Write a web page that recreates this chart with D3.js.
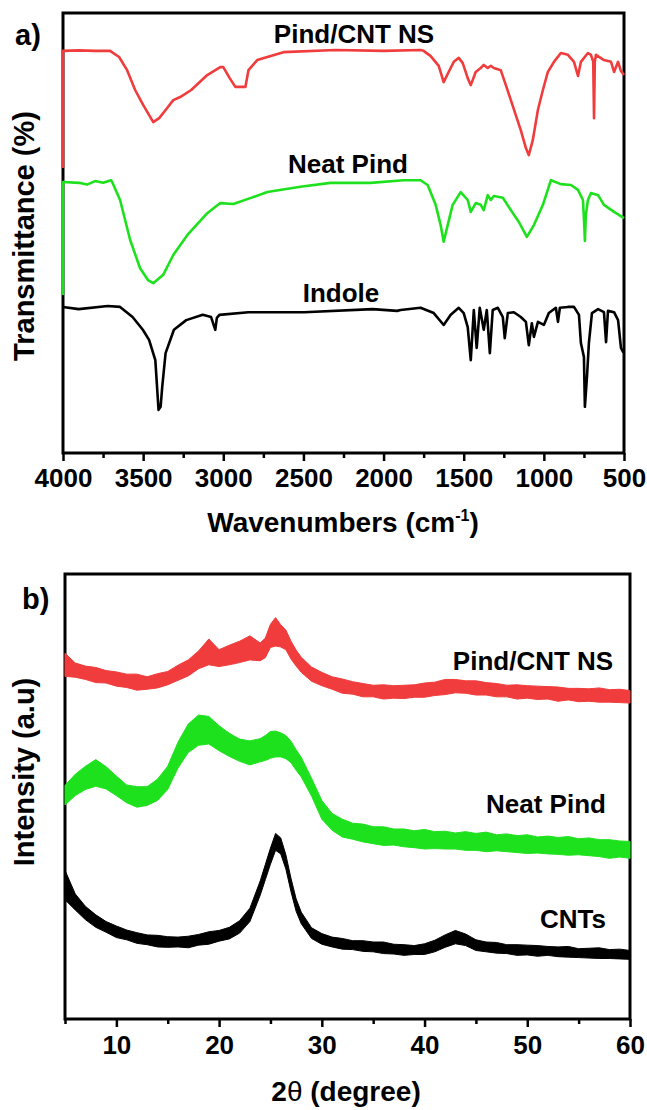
<!DOCTYPE html>
<html>
<head>
<meta charset="utf-8">
<script src="https://cdn.jsdelivr.net/npm/d3@7"></script>
<style>
  body { margin: 0; background: #fff; }
  text { font-family: "Liberation Sans", Arial, sans-serif; font-weight: bold; fill: #000; }
  .tick text { font-size: 26px; }
  .tick line { stroke: #000; stroke-width: 2.5; }
</style>
</head>
<body>
<script>
/*
 * a) FTIR spectra and b) XRD patterns, stacked traces.
 * */

// ---- a) FTIR: wavenumber (cm-1) and transmittance (%, offset per trace)
var pindCntWn = [4000, 4000, 3900, 3800, 3706, 3650, 3600, 3550, 3500, 3437, 3400, 3350, 3312, 3269, 3200,
  3100, 3019, 3000, 2960, 2925, 2862, 2843, 2788, 2625, 2300, 2000, 1769, 1750, 1706, 1656,
  1625, 1594, 1562, 1531, 1506, 1475, 1456, 1425, 1394, 1375, 1350, 1331, 1312, 1269, 1237,
  1206, 1175, 1144, 1112, 1094, 1069, 1037, 1006, 975, 937, 894, 850, 812, 787, 769,
  725, 706, 692, 687, 682, 675, 625, 581, 562, 537, 519, 500];
var pindCntT = [64.8, 91.4, 91.5, 91.4, 91.4, 90.0, 87.0, 82.5, 79.1, 75.2, 76.1, 78.4, 80.2, 80.9, 82.5,
  85.9, 87.7, 87.7, 85.2, 83.2, 83.2, 87.0, 89.3, 91.1, 91.6, 91.4, 91.6, 91.4, 90.2, 88.0,
  84.3, 86.6, 88.9, 89.8, 88.6, 85.2, 83.6, 86.6, 87.5, 88.2, 87.5, 88.0, 87.5, 87.0, 83.6,
  80.2, 76.8, 73.4, 69.3, 67.7, 71.1, 78.0, 82.5, 86.6, 88.9, 90.9, 90.5, 88.9, 85.7, 88.9,
  90.9, 90.5, 88.9, 76.1, 88.9, 90.5, 89.3, 88.9, 86.6, 88.9, 86.8, 85.9];

var neatPindWn = [4000, 4000, 3900, 3850, 3800, 3750, 3700, 3687, 3644, 3581, 3519, 3470, 3437, 3375, 3312,
  3225, 3100, 3019, 2937, 2850, 2725, 2519, 2331, 2081, 1875, 1769, 1725, 1675, 1644, 1625,
  1600, 1569, 1519, 1475, 1456, 1425, 1394, 1375, 1350, 1331, 1312, 1256, 1206, 1156, 1106,
  1062, 1006, 956, 894, 831, 787, 756, 748, 744, 738, 725, 706, 662, 625, 562, 500];
var neatPindT = [35.9, 61.6, 61.4, 61.0, 61.8, 61.4, 62.0, 61.1, 57.5, 48.4, 42.0, 39.3, 38.6, 40.5, 45.0,
  49.5, 54.5, 56.8, 56.6, 57.7, 59.3, 60.5, 61.4, 61.4, 62.0, 62.0, 60.9, 56.4, 51.8, 48.0,
  51.8, 56.4, 59.3, 57.5, 54.8, 56.8, 56.4, 55.2, 58.6, 57.5, 58.4, 58.0, 55.2, 52.5, 49.1,
  51.8, 56.4, 62.0, 61.1, 60.9, 59.8, 57.5, 51.8, 48.2, 54.1, 57.5, 59.1, 58.6, 56.4, 54.8, 53.4];

var indoleWn = [4000, 3902, 3721, 3644, 3566, 3502, 3463, 3424, 3410, 3404, 3391, 3381, 3360, 3308, 3231,
  3128, 3076, 3050, 3040, 3024, 2844, 2496, 2069, 1915, 1894, 1769, 1687, 1625, 1581, 1531,
  1500, 1475, 1456, 1437, 1419, 1400, 1375, 1356, 1337, 1319, 1287, 1256, 1244, 1225, 1187,
  1144, 1112, 1094, 1075, 1062, 1037, 1000, 969, 925, 912, 900, 850, 812, 781, 769,
  750, 744, 731, 719, 700, 662, 625, 612, 600, 562, 537, 519, 506, 500];
var indoleT = [33.2, 32.7, 33.4, 33.2, 30.9, 28.0, 25.7, 21.1, 13.2, 9.8, 10.5, 15.0, 22.7, 28.0, 30.2,
  31.4, 30.9, 28.0, 30.7, 31.4, 32.0, 32.0, 32.7, 32.3, 32.5, 33.0, 31.8, 29.1, 31.4, 33.0,
  31.8, 28.6, 21.1, 32.5, 23.9, 33.0, 28.0, 32.5, 22.7, 32.5, 33.0, 30.9, 26.1, 31.8, 32.0,
  30.9, 29.8, 24.5, 29.5, 26.4, 29.8, 29.1, 31.8, 33.0, 29.8, 33.0, 33.2, 33.2, 31.4, 25.0,
  21.8, 10.5, 17.3, 25.0, 31.8, 32.7, 32.0, 25.2, 32.3, 32.0, 30.2, 23.9, 23.0, 23.0];

var ftirTicks = [4000, 3500, 3000, 2500, 2000, 1500, 1000, 500];
var ftirMinor = [3750, 3250, 2750, 2250, 1750, 1250, 750];

// ---- b) XRD: 2theta, trace level and half-width of the noise band (a.u.)
var xrdAngle = [5, 6, 7, 8, 9, 10, 11, 12, 13, 14, 15, 16, 17, 18, 19, 20, 21, 22, 23, 24,
  24.5, 25, 25.5, 26, 26.5, 27, 27.5, 28, 29, 30, 31, 32, 33, 34, 35, 36, 37, 38, 39, 40,
  41, 42, 43, 44, 45, 46, 47, 48, 49, 50, 51, 52, 53, 54, 55, 56, 57, 58, 59, 60];

var pindCntXrd = [79.6, 78.4, 77.8, 77.3, 76.9, 76.4, 76.0, 75.7, 75.5, 76.0,
  76.6, 77.8, 78.9, 80.7, 82.5, 81.1, 81.8, 82.5, 83.4, 82.5,
  83.4, 86.1, 87.0, 86.1, 85.2, 82.9, 81.1, 79.6, 77.5, 76.4,
  75.5, 74.8, 74.4, 73.9, 73.7, 73.5, 73.5, 73.5, 73.7, 73.9,
  74.2, 74.6, 74.8, 74.6, 74.4, 74.2, 73.9, 73.7, 73.5, 73.5,
  73.3, 73.3, 73.0, 73.0, 72.8, 72.8, 72.8, 72.6, 72.6, 72.4];
var pindCntSpread = [2.6, 1.6, 1.5, 1.7, 1.4, 1.6, 1.5, 1.8, 1.4, 1.6,
  1.5, 1.7, 1.8, 2.0, 2.9, 1.9, 2.2, 2.4, 2.7, 2.0,
  2.2, 2.6, 3.2, 2.5, 2.2, 2.0, 1.8, 1.7, 1.6, 1.5,
  1.4, 1.6, 1.4, 1.5, 1.3, 1.6, 1.4, 1.5, 1.4, 1.6,
  1.5, 1.7, 1.5, 1.4, 1.6, 1.4, 1.5, 1.3, 1.6, 1.4,
  1.5, 1.4, 1.6, 1.3, 1.5, 1.4, 1.6, 1.4, 1.5, 1.4];

var neatPindXrd = [50.3, 52.6, 54.2, 55.3, 54.2, 52.4, 50.6, 49.9, 50.1, 51.5,
  54.2, 59.3, 63.1, 64.9, 64.9, 63.1, 61.6, 60.4, 59.8, 60.4,
  60.9, 61.6, 61.8, 61.6, 61.1, 60.0, 58.2, 56.6, 52.1, 47.0,
  44.3, 42.9, 42.2, 41.8, 41.3, 41.1, 40.9, 40.7, 40.4, 40.4,
  40.2, 40.2, 40.0, 40.0, 39.8, 39.8, 39.6, 39.6, 39.3, 39.3,
  39.1, 39.1, 38.9, 38.9, 38.7, 38.7, 38.4, 38.2, 38.2, 38.0];
var neatPindSpread = [2.2, 2.4, 2.6, 3.0, 2.5, 2.2, 2.0, 2.3, 2.1, 2.4,
  2.6, 2.9, 3.2, 3.4, 3.1, 2.8, 2.6, 2.5, 2.7, 2.6,
  2.8, 3.0, 2.9, 2.7, 2.6, 2.4, 2.3, 2.2, 2.0, 2.1,
  1.9, 2.0, 1.8, 2.0, 1.9, 2.1, 1.8, 2.0, 1.9, 2.2,
  1.9, 2.0, 1.8, 2.1, 1.9, 2.2, 1.8, 2.0, 1.9, 2.1,
  1.8, 2.0, 1.9, 2.1, 1.8, 2.0, 1.9, 2.1, 1.8, 1.9];

var cntXrd = [30.1, 26.3, 23.8, 22.0, 20.7, 19.6, 18.9, 18.2, 17.8, 17.5,
  17.3, 17.3, 17.3, 17.8, 18.2, 18.7, 19.3, 20.7, 23.4, 29.4,
  33.0, 36.6, 39.8, 38.9, 35.3, 30.1, 25.6, 22.7, 19.3, 18.0,
  17.3, 16.9, 16.6, 16.4, 16.2, 16.0, 15.7, 15.5, 15.5, 15.7,
  16.4, 17.5, 18.4, 17.8, 16.6, 16.2, 16.0, 15.7, 15.5, 15.5,
  15.3, 15.3, 15.1, 15.1, 14.8, 14.8, 14.8, 14.6, 14.6, 14.4];
var cntSpread = [3.3, 1.8, 1.5, 1.4, 1.2, 1.3, 1.1, 1.2, 1.1, 1.3,
  1.2, 1.1, 1.3, 1.2, 1.4, 1.2, 1.3, 1.4, 1.5, 1.6,
  1.7, 1.8, 1.9, 1.8, 1.6, 1.5, 1.4, 1.3, 1.2, 1.2,
  1.1, 1.2, 1.0, 1.2, 1.1, 1.3, 1.1, 1.2, 1.0, 1.2,
  1.3, 1.4, 1.5, 1.3, 1.2, 1.1, 1.2, 1.0, 1.2, 1.1,
  1.2, 1.0, 1.1, 1.2, 1.0, 1.1, 1.2, 1.0, 1.1, 1.0];

var xrdTicks = [10, 20, 30, 40, 50, 60];
var xrdMinor = [5, 15, 25, 35, 45, 55];

var red = "#f03c3c", green = "#1ee11e", black = "#000";

var svg = d3.select("body").append("svg")
    .attr("width", 647)
    .attr("height", 1110);

function zip(xs, ys) {
  return xs.map(function(x, i) { return [x, ys[i]]; });
}

// frame + bottom ticks of one panel
function drawFrame(box, x, major, minor, pad) {
  svg.append("rect")
      .attr("x", box.left).attr("y", box.top)
      .attr("width", box.right - box.left)
      .attr("height", box.bottom - box.top)
      .attr("fill", "none")
      .attr("stroke", "#000")
      .attr("stroke-width", 3);

  var g = svg.append("g")
      .attr("transform", "translate(0," + box.bottom + ")")
      .call(d3.axisBottom(x).tickValues(major).tickSize(8).tickPadding(pad).tickFormat(d3.format("d")));
  g.select(".domain").remove();

  var gm = svg.append("g")
      .attr("transform", "translate(0," + box.bottom + ")")
      .call(d3.axisBottom(x).tickValues(minor).tickSize(5).tickFormat(""));
  gm.select(".domain").remove();
}

function addText(str, x, y, size, anchor) {
  return svg.append("text")
      .attr("x", x).attr("y", y)
      .style("font-size", size + "px")
      .style("text-anchor", anchor || "middle")
      .text(str);
}

// ---------------- a) FTIR
var boxA = {left: 63, right: 624, top: 13, bottom: 453};
var xA = d3.scaleLinear().domain([4000, 500]).range([boxA.left, boxA.right]);
var yA = d3.scaleLinear().domain([0, 100]).range([boxA.bottom, boxA.top]);

drawFrame(boxA, xA, ftirTicks, ftirMinor, 8);

var lineA = d3.line()
    .x(function(d) { return xA(d[0]); })
    .y(function(d) { return yA(d[1]); });

[[pindCntWn, pindCntT, red], [neatPindWn, neatPindT, green], [indoleWn, indoleT, black]]
  .forEach(function(s) {
    svg.append("path")
        .datum(zip(s[0], s[1]))
        .attr("d", lineA)
        .attr("fill", "none")
        .attr("stroke", s[2])
        .attr("stroke-width", 2.6)
        .attr("stroke-linejoin", "round");
  });

addText("a)", 15, 45, 29, "start");
addText("Pind/CNT NS", 354, 43, 26);
addText("Neat Pind", 348, 173, 26);
addText("Indole", 341, 302, 26);

var wn = addText("Wavenumbers (cm", 343, 532, 28);
wn.append("tspan").attr("dy", -11).style("font-size", "16px").text("-1");
wn.append("tspan").attr("dy", 11).text(")");

svg.append("text")
    .attr("transform", "translate(34," + 236 + ") rotate(-90)")
    .style("font-size", "29px")
    .style("text-anchor", "middle")
    .text("Transmittance (%)");

// ---------------- b) XRD
var boxB = {left: 65, right: 630, top: 574, bottom: 1019};
var xB = d3.scaleLinear().domain([5, 60]).range([boxB.left, boxB.right]);
var yB = d3.scaleLinear().domain([0, 100]).range([boxB.bottom, boxB.top]);

drawFrame(boxB, xB, xrdTicks, xrdMinor, 9);

// noisy traces drawn as a band between level - spread and level + spread
[[pindCntXrd, pindCntSpread, red], [neatPindXrd, neatPindSpread, green], [cntXrd, cntSpread, black]]
  .forEach(function(s) {
    var area = d3.area()
        .x(function(d, i) { return xB(xrdAngle[i]); })
        .y0(function(d, i) { return yB(d - s[1][i]); })
        .y1(function(d, i) { return yB(d + s[1][i]); });
    svg.append("path")
        .datum(s[0])
        .attr("d", area)
        .attr("fill", s[2])
        .attr("stroke", s[2])
        .attr("stroke-width", 1);
  });

addText("b)", 22, 609, 29, "start");
addText("Pind/CNT NS", 533, 670, 26);
addText("Neat Pind", 546, 813, 26);
addText("CNTs", 573, 928, 26);

var tt = addText("2", 346, 1101, 28);
tt.append("tspan").style("font-weight", "normal").text("\u03b8");
tt.append("tspan").text(" (degree)");

svg.append("text")
    .attr("transform", "translate(34," + 772 + ") rotate(-90)")
    .style("font-size", "29px")
    .style("text-anchor", "middle")
    .text("Intensity (a.u)");
</script>
</body>
</html>
